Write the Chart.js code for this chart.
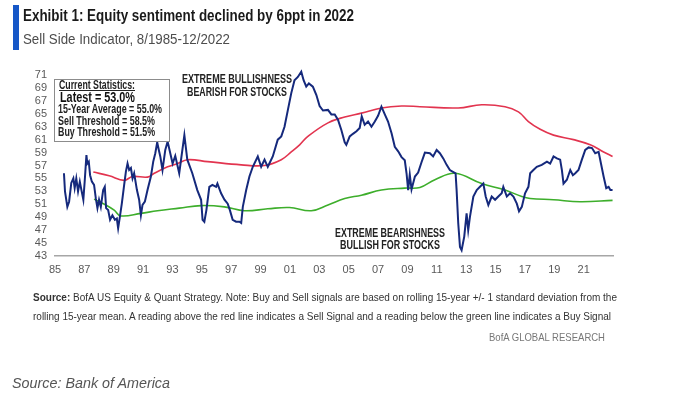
<!DOCTYPE html>
<html>
<head>
<meta charset="utf-8">
<script src="https://cdn.jsdelivr.net/npm/chart.js@4.4.1/dist/chart.umd.min.js"></script>
<style>
  html, body { margin: 0; padding: 0; background: #fff; }
  #wrap { position: relative; width: 673px; height: 396px; overflow: hidden; }
  #c { position: absolute; left: 0; top: 0; }
  .t { position: absolute; white-space: nowrap; line-height: 1; transform-origin: left center;
       font-family: "Liberation Sans Narrow", "Liberation Sans", Arial, sans-serif; color: #222; }
  .box { position: absolute; left: 54px; top: 79px; width: 114px; height: 61px;
         border: 1px solid #8c8c8c; background: #fff; }
  .bar { position: absolute; left: 13px; top: 5px; width: 6px; height: 45px; background: #1657c7; }
</style>
</head>
<body>
<div id="wrap">
  <canvas id="c" width="673" height="396"></canvas>
  <div class="bar"></div>
  <div class="t" data-w="331" style="left:23px; top:8px; font-size:16px; font-weight:bold; color:#1a1a1a;">Exhibit 1: Equity sentiment declined by 6ppt in 2022</div>
  <div class="t" data-w="207" style="left:23px; top:32px; font-size:14px; color:#4d4d4d;">Sell Side Indicator, 8/1985-12/2022</div>

  <div class="box"></div>
  <div class="t" data-w="76" style="left:59px; top:79px; font-size:12px; font-weight:bold; text-decoration:underline; color:#222;">Current Statistics:</div>
  <div class="t" data-w="75" style="left:60px; top:90px; font-size:14px; font-weight:bold; color:#111;">Latest = 53.0%</div>
  <div class="t" data-w="104" style="left:58px; top:103px; font-size:12.5px; font-weight:bold; color:#222;">15-Year Average = 55.0%</div>
  <div class="t" data-w="97" style="left:58px; top:115px; font-size:12.5px; font-weight:bold; color:#222;">Sell Threshold = 58.5%</div>
  <div class="t" data-w="97" style="left:58px; top:126px; font-size:12.5px; font-weight:bold; color:#222;">Buy Threshold = 51.5%</div>

  <div class="t" data-w="110" style="left:182px; top:73px; font-size:12px; font-weight:bold;">EXTREME BULLISHNESS</div>
  <div class="t" data-w="100" style="left:187px; top:86px; font-size:12px; font-weight:bold;">BEARISH FOR STOCKS</div>
  <div class="t" data-w="110" style="left:335px; top:227px; font-size:12px; font-weight:bold;">EXTREME BEARISHNESS</div>
  <div class="t" data-w="100" style="left:340px; top:239px; font-size:12px; font-weight:bold;">BULLISH FOR STOCKS</div>

  <div class="t" data-w="584" style="left:33px; top:292px; font-size:11px; color:#333;"><b>Source:</b> BofA US Equity &amp; Quant Strategy. Note: Buy and Sell signals are based on rolling 15-year +/- 1 standard deviation from the</div>
  <div class="t" data-w="578" style="left:33px; top:311px; font-size:11px; color:#333;">rolling 15-year mean. A reading above the red line indicates a Sell Signal and a reading below the green line indicates a Buy Signal</div>
  <div class="t" data-w="116" style="left:489px; top:332px; font-size:11px; color:#777;">BofA GLOBAL RESEARCH</div>
  <div class="t" data-w="158" style="left:12px; top:375px; font-size:15px; font-style:italic; color:#555; font-family:'Liberation Sans', Arial, sans-serif;">Source: Bank of America</div>
</div>
<script>
// Sell Side Indicator, monthly readings (decimal years)
const blueYears = [1985.61,1985.68,1985.84,1985.96,1986.11,1986.25,1986.34,1986.45,1986.57,1986.69,
  1986.80,1986.93,1987.03,1987.14,1987.20,1987.30,1987.39,1987.51,1987.66,1987.78,
  1987.89,1988.00,1988.12,1988.28,1988.39,1988.48,1988.62,1988.75,1988.91,1989.08,
  1989.21,1989.30,1989.42,1989.55,1989.71,1989.83,1989.94,1990.05,1990.17,1990.28,
  1990.39,1990.58,1990.73,1990.85,1990.96,1991.12,1991.30,1991.53,1991.69,1991.83,
  1991.96,1992.07,1992.17,1992.32,1992.51,1992.67,1992.85,1993.01,1993.19,1993.46,
  1993.81,1994.01,1994.35,1994.69,1994.95,1995.05,1995.17,1995.31,1995.51,1995.72,
  1995.97,1996.06,1996.31,1996.54,1996.76,1996.91,1997.10,1997.33,1997.56,1997.68,
  1997.79,1998.02,1998.24,1998.47,1998.81,1999.04,1999.27,1999.49,1999.83,2000.17,
  2000.41,2000.63,2000.86,2001.09,2001.31,2001.54,2001.77,2001.93,2002.11,2002.29,
  2002.56,2002.80,2003.02,2003.25,2003.59,2003.82,2004.05,2004.27,2004.50,2004.73,
  2004.84,2005.07,2005.29,2005.53,2005.75,2005.89,2006.09,2006.32,2006.55,2006.78,
  2007.00,2007.23,2007.46,2007.68,2007.92,2008.14,2008.37,2008.60,2008.82,2008.94,
  2009.05,2009.16,2009.28,2009.51,2009.73,2009.96,2010.19,2010.53,2010.75,2010.99,
  2011.21,2011.44,2011.67,2011.89,2012.28,2012.35,2012.46,2012.58,2012.69,2012.87,
  2013.03,2013.14,2013.26,2013.49,2013.72,2013.94,2014.17,2014.33,2014.51,2014.74,
  2014.97,2015.19,2015.42,2015.53,2015.77,2015.99,2016.22,2016.45,2016.60,2016.79,
  2017.01,2017.24,2017.36,2017.58,2017.81,2018.15,2018.50,2018.72,2018.95,2019.18,
  2019.40,2019.52,2019.63,2019.86,2020.09,2020.27,2020.43,2020.65,2020.88,2021.11,
  2021.34,2021.57,2021.79,2022.02,2022.18,2022.36,2022.54,2022.70,2022.82,2022.97];
const blueValues = [55.8,53.0,50.6,51.4,54.3,55.0,53.5,55.0,53.0,54.5,
  53.2,51.7,54.8,58.6,57.3,57.6,55.5,54.5,54.0,51.9,
  50.4,51.7,50.6,53.2,53.7,50.4,50.1,48.6,49.3,48.6,
  48.8,47.3,49.1,51.1,54.0,56.1,57.3,56.3,56.6,55.0,
  55.8,53.2,51.7,49.3,50.9,51.4,53.2,55.3,57.6,58.9,
  60.6,59.4,58.4,56.3,59.4,60.7,58.9,57.3,58.5,55.8,
  61.7,57.9,55.8,53.2,51.7,48.6,48.3,50.1,53.7,54.0,
  53.7,54.2,52.7,51.7,51.1,50.1,48.6,48.3,48.3,48.1,
  50.6,53.2,55.3,56.8,58.4,56.8,57.9,56.8,58.4,61.0,
  61.5,63.0,65.6,68.2,70.2,70.7,71.5,70.2,69.2,69.7,
  69.2,67.9,66.2,65.5,65.6,64.9,64.9,64.1,62.5,60.6,
  60.2,61.5,61.9,62.3,62.8,64.6,63.3,63.8,63.0,63.8,
  64.7,66.1,64.9,63.8,62.0,59.9,59.2,58.3,57.8,55.8,
  53.2,55.6,53.3,55.3,55.9,57.5,59.0,58.9,58.4,59.4,
  58.9,58.1,57.1,56.3,55.8,53.2,48.1,44.4,43.9,46.0,
  49.6,47.0,49.1,52.2,53.2,53.7,54.2,52.2,50.9,52.2,
  51.7,52.2,52.7,53.7,52.2,52.7,52.2,51.1,49.9,50.6,
  52.7,53.7,55.8,56.3,56.8,57.1,57.6,57.3,58.4,58.1,
  57.9,56.3,54.2,54.8,56.3,55.5,55.8,56.3,57.9,59.4,
  59.8,59.7,58.9,59.1,57.3,55.3,53.5,53.7,53.2,53.2];

// Sell threshold (rolling 15y mean + 1 sd)
const redYears = [1987.61,1988.69,1989.71,1990.28,1991.30,1991.76,1992.67,1993.35,1994.03,1995.40,
  1997.68,1999.27,2000.41,2001.09,2001.66,2002.22,2003.59,2004.73,2005.87,2007.23,
  2008.60,2009.85,2012.46,2014.06,2015.65,2016.56,2017.24,2018.04,2018.95,2020.31,
  2021.45,2022.36,2022.97];
const redValues = [56.0,55.4,54.7,55.3,55.2,55.8,56.8,57.3,57.9,57.6,
  57.1,57.0,57.9,59.1,60.2,61.5,63.6,64.5,65.1,65.9,
  66.2,66.1,65.9,66.4,66.1,65.3,63.8,62.6,61.7,61.0,
  60.2,59.1,58.4];

// Buy threshold (rolling 15y mean - 1 sd)
const greenYears = [1987.66,1988.46,1989.03,1989.48,1990.85,1991.98,1993.46,1994.95,1996.54,1997.90,
  1999.49,2000.97,2002.45,2003.59,2004.73,2005.87,2007.23,2008.82,2009.85,2010.87,
  2012.24,2014.06,2015.65,2016.79,2017.36,2018.95,2020.77,2022.97];
const greenValues = [51.8,50.9,50.1,49.2,49.6,50.0,50.4,50.8,50.6,50.0,
  50.3,50.5,50.0,50.9,51.9,52.4,53.2,53.5,53.6,54.8,
  55.8,54.2,53.2,52.2,51.9,51.7,51.4,51.6];

const tickYears = [1985,1987,1989,1991,1993,1995,1997,1999,2001,2003,2005,2007,2009,2011,2013,2015,2017,2019,2021];
const tickLabels = ['85','87','89','91','93','95','97','99','01','03','05','07','09','11','13','15','17','19','21'];

const toPoints = (xs, ys) => xs.map((x, i) => ({ x: x, y: ys[i] }));
const tickFont = { family: "'Liberation Sans', Arial, sans-serif", size: 11 };

new Chart(document.getElementById('c').getContext('2d'), {
  type: 'line',
  data: {
    datasets: [
      { label: 'Sell Side Indicator', data: toPoints(blueYears, blueValues),
        borderColor: '#15297c', borderWidth: 2, pointRadius: 0, tension: 0, clip: false },
      { label: 'Sell Threshold', data: toPoints(redYears, redValues),
        borderColor: '#e2344f', borderWidth: 1.6, pointRadius: 0, tension: 0.4 },
      { label: 'Buy Threshold', data: toPoints(greenYears, greenValues),
        borderColor: '#3dae2b', borderWidth: 1.6, pointRadius: 0, tension: 0.4 }
    ]
  },
  options: {
    responsive: false,
    animation: false,
    devicePixelRatio: 1,
    layout: { padding: { left: 0, right: 60, top: 75, bottom: 116 } },
    plugins: { legend: { display: false }, tooltip: { enabled: false } },
    scales: {
      x: {
        type: 'linear', min: 1985, max: 2023,
        grid: { display: false, drawTicks: false },
        border: { display: true, color: '#a6a6a6', width: 1.5 },
        afterBuildTicks: s => { s.ticks = tickYears.map(v => ({ value: v })); },
        afterFit: s => { s.height = 24; },
        ticks: { autoSkip: false, maxRotation: 0, color: '#595959', font: tickFont, padding: 7,
                 callback: (v, i) => tickLabels[i] }
      },
      y: {
        min: 43, max: 71,
        grid: { display: false, drawTicks: false },
        border: { display: false },
        afterFit: s => { s.width = 55; },
        ticks: { stepSize: 2, autoSkip: false, color: '#595959', font: tickFont, padding: 8 }
      }
    }
  }
});

// squeeze each text line to the width it has in the reference
document.querySelectorAll('[data-w]').forEach(el => {
  const nat = el.getBoundingClientRect().width;
  el.style.transform = 'scaleX(' + (+el.dataset.w / nat) + ')';
});
</script>
</body>
</html>
